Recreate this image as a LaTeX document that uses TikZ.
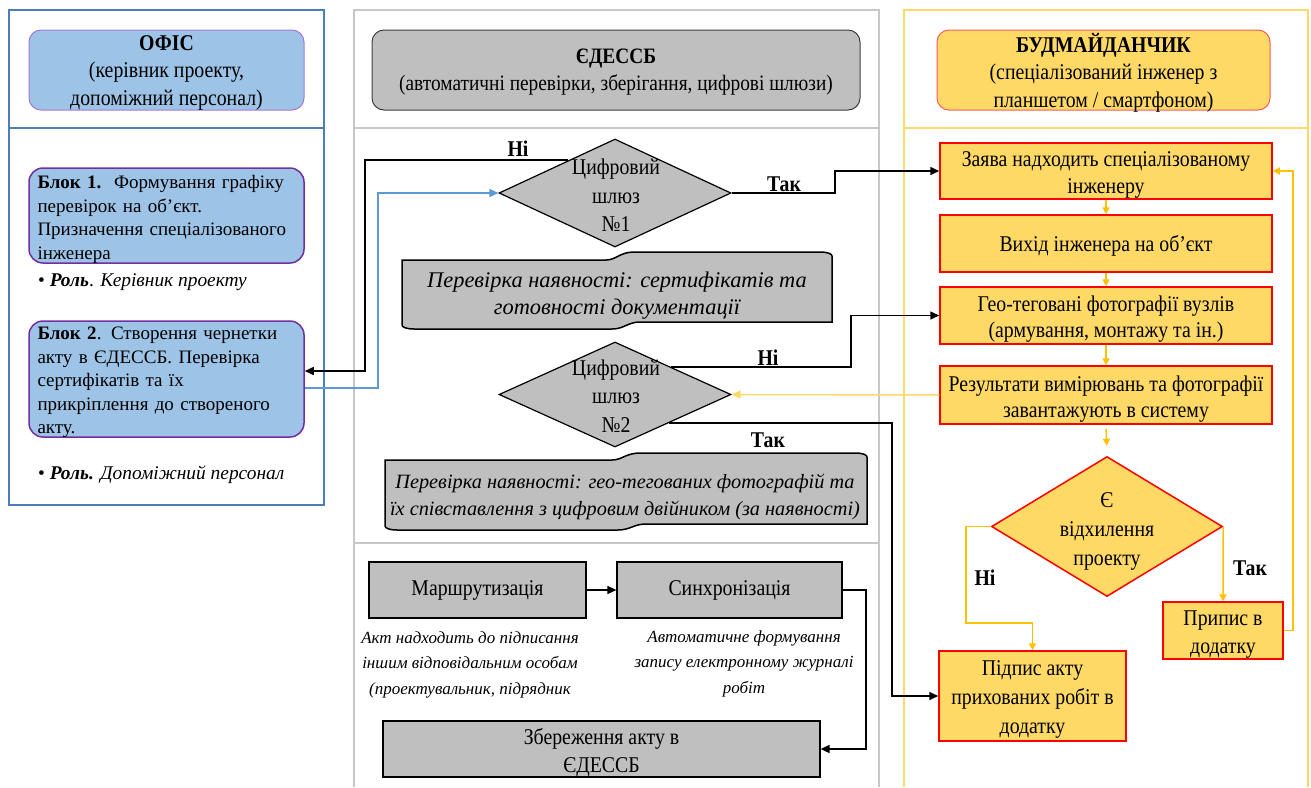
\documentclass[tikz,border=0pt]{standalone}
\usepackage{fontspec}
\setmainfont{Liberation Serif}[FakeStretch=0.88]
\newfontfamily\pf{Liberation Serif}
\usetikzlibrary{shapes.geometric,arrows.meta,calc}
\definecolor{laneblue}{HTML}{4A7EBB}
\definecolor{lightblue}{HTML}{9DC3E6}
\definecolor{purp}{HTML}{7030A0}
\definecolor{lpurp}{HTML}{A47AD6}
\definecolor{lgray}{HTML}{C8C8C8}
\definecolor{boxgray}{HTML}{BFBFBF}
\definecolor{darkgray}{HTML}{404040}
\definecolor{gold}{HTML}{FFD966}
\definecolor{amber}{HTML}{FFC000}
\definecolor{redb}{HTML}{FF0000}
\definecolor{redl}{HTML}{FF5B5B}
\definecolor{linkblue}{HTML}{5B9BD5}
\tikzset{
  hdr/.style={rounded corners=12pt, minimum height=80pt, inner sep=0pt},
  hdrtxt/.style={align=center, inner sep=0pt, font=\fontsize{22.5}{27.5}\selectfont},
  blueblk/.style={draw=purp, line width=1.5pt, fill=lightblue, rounded corners=14pt,
    minimum width=275pt},
  blocktxt/.style={text width=263pt, align=left, inner sep=0pt,
    font=\pf\fontsize{19}{23.5}\selectfont},
  role/.style={anchor=base west, inner sep=0pt, font=\pf\fontsize{19.4}{22}\selectfont},
  graybox/.style={draw=black, line width=1.2pt, fill=boxgray, align=center, inner sep=2pt,
    font=\fontsize{22.5}{28}\selectfont},
  ybox/.style={draw=redb, line width=1.5pt, fill=gold, align=center, inner sep=2pt,
    font=\fontsize{22.5}{26.5}\selectfont},
  gate/.style={diamond, draw=black, line width=1.2pt, fill=boxgray, inner sep=0pt,
    minimum width=232pt, minimum height=108pt},
  gatetxt/.style={align=center, inner sep=0pt, font=\fontsize{22.5}{28.5}\selectfont},
  wavetxt/.style={align=center, inner sep=0pt, font=\pf\fontsize{22.4}{27}\selectfont\itshape},
  note/.style={align=center, inner sep=0pt, font=\pf\fontsize{17}{25.5}\selectfont\itshape},
  lbl/.style={inner sep=0pt, font=\fontsize{22.5}{24}\selectfont\bfseries},
  wave/.style={draw=black, line width=1.5pt, fill=boxgray},
  blk/.style={draw=black, line width=1.5pt, -{Triangle[length=9pt,width=8pt]}},
  bluel/.style={draw=linkblue, line width=1.5pt, -{Triangle[length=9pt,width=8pt]}},
  amb/.style={draw=amber, line width=1.5pt, -{Triangle[length=7pt,width=7pt]}},
  pale/.style={draw=gold, line width=1.5pt, -{Triangle[length=9pt,width=8pt]}},
}
\begin{document}
\begin{tikzpicture}[x=1pt,y=-1pt]
\useasboundingbox (0,0) rectangle (1311,787);
\fill[white] (0,0) rectangle (1311,787);

% ---------- lanes ----------
\draw[laneblue, line width=1.5pt] (9,10) rectangle (324,505);
\draw[laneblue, line width=1.5pt] (9,128) -- (324,128);
\draw[lgray, line width=1.5pt] (354,787) -- (354,10) -- (879,10) -- (879,787);
\draw[lgray, line width=1.5pt] (354,128) -- (879,128);
\draw[lgray, line width=1.5pt] (354,543) -- (879,543);
\draw[gold, line width=1.5pt] (904,787) -- (904,10) -- (1308,10) -- (1308,787);
\draw[gold, line width=1.5pt] (904,128) -- (1308,128);

% ---------- headers ----------
\node[hdr, draw=lpurp, line width=1pt, fill=lightblue, minimum width=275pt] (hL) at (166.5,70) {};
\node[hdrtxt] (hLt) at (166.5,72.5) {{\bfseries ОФІС}\\(керівник проекту,\\допоміжний персонал)};
\node[hdr, draw=darkgray, line width=1pt, fill=boxgray, minimum width=488pt] (hM) at (616,70) {};
\node[hdrtxt, font=\fontsize{22}{27.5}\selectfont] (hMt) at (616,72)
  {{\bfseries ЄДЕССБ}\\(автоматичні перевірки, зберігання, цифрові шлюзи)};
\node[hdr, draw=redl, line width=1pt, fill=gold, minimum width=333pt] (hR) at (1103.5,70) {};
\node[hdrtxt] (hRt) at (1103.5,72.5) {{\bfseries БУДМАЙДАНЧИК}\\(спеціалізований інженер з\\планшетом / смартфоном)};

% ---------- office lane ----------
\node[blueblk, minimum height=95pt] (b1) at (166.5,215.5) {};
\node[blocktxt] (b1t) at (169,219.5)
  {{\bfseries Блок 1.}\ \ Формування графіку\\перевірок на об’єкт.\\Призначення спеціалізованого\\інженера};
\node[role] (r1) at (38,286) {• \textbf{\textit{Роль}}. \textit{Керівник проекту}};
\node[blueblk, minimum height=116pt] (b2) at (166.5,379) {};
\node[blocktxt] (b2t) at (169,382.5)
  {{\bfseries Блок 2}. Створення чернетки\\акту в ЄДЕССБ. Перевірка\\сертифікатів та їх\\прикріплення до створеного\\акту.};
\node[role] (r2) at (38,479) {• \textbf{\textit{Роль.}} \textit{Допоміжний персонал}};

% ---------- EDESSB lane ----------
\node[gate] (d1) at (615,193) {};
\node[gatetxt] (d1t) at (616,195.5) {Цифровий\\шлюз\\№1};
\draw[wave] (402,260) -- (606,260) .. controls (616,260) and (620,252) .. (634,252)
  -- (820,252) .. controls (828,252) and (832,254) .. (832,256) -- (832,322)
  -- (640,322) .. controls (628,322) and (624,329) .. (612,329)
  -- (414,329) .. controls (406,329) and (402,327) .. (402,325) -- cycle;
\node[wavetxt] (w1) at (617,296) {Перевірка наявності: сертифікатів та\\готовності документації};

\node[gate, minimum height=105pt] (d2) at (615,394.5) {};
\node[gatetxt] (d2t) at (616,396) {Цифровий\\шлюз\\№2};
\draw[wave] (385,460) -- (612,460) .. controls (622,460) and (626,453) .. (640,453)
  -- (855,453) .. controls (863,453) and (867,455) .. (867,457) -- (867,524)
  -- (646,524) .. controls (634,524) and (630,530) .. (618,530)
  -- (397,530) .. controls (389,530) and (385,528) .. (385,526) -- cycle;
\node[wavetxt, font=\pf\fontsize{20.3}{26.5}\selectfont\itshape] (w2) at (625,497)
  {Перевірка наявності: гео-тегованих фотографій та\\їх співставлення з цифровим двійником (за наявності)};

\node[graybox, minimum width=217pt, minimum height=56pt] (mr) at (477.5,590) {Маршрутизація};
\node[graybox, minimum width=225pt, minimum height=56pt] (sy) at (729.5,590) {Синхронізація};
\node[note] (nA) at (470,664.5) {Акт надходить до підписання\\іншим відповідальним особам\\(проектувальник, підрядник};
\node[note] (nB) at (744,663.5) {Автоматичне формування\\запису електронному журналі\\робіт};
\node[graybox, minimum width=437pt, minimum height=56pt] (zb) at (601.5,749) {};
\node[graybox, draw=none, fill=none] (zbt) at (601.5,753) {Збереження акту в\\ЄДЕССБ};

% ---------- site lane ----------
\node[ybox, minimum width=332pt, minimum height=56pt] (zy) at (1106,171) {};
\node[ybox, draw=none, fill=none] (zyt) at (1106,175) {Заява надходить спеціалізованому\\інженеру};
\node[ybox, minimum width=332pt, minimum height=57pt] (vy) at (1106,243.5) {};
\node[ybox, draw=none, fill=none] (vyt) at (1106,246) {Вихід інженера на об’єкт};
\node[ybox, minimum width=332pt, minimum height=57pt] (ge) at (1106,315.5) {};
\node[ybox, draw=none, fill=none] (get) at (1106,319) {Гео-теговані фотографії вузлів\\(армування, монтажу та ін.)};
\node[ybox, minimum width=332pt, minimum height=58pt] (rz) at (1106,395) {};
\node[ybox, draw=none, fill=none] (rzt) at (1106,399) {Результати вимірювань та фотографії\\завантажують в систему};
\node[diamond, draw=redb, line width=1.5pt, fill=gold, inner sep=0pt,
  minimum width=231pt, minimum height=140pt] (dv) at (1107,526.5) {};
\node[gatetxt, font=\fontsize{22.5}{29}\selectfont] (dvt) at (1107,531) {Є\\відхилення\\проекту};
\node[ybox, minimum width=120pt, minimum height=57pt] (pr) at (1223,630.5) {};
\node[ybox, draw=none, fill=none, font=\fontsize{22.5}{27.5}\selectfont] (prt) at (1223,634.5) {Припис в\\додатку};
\node[ybox, minimum width=187pt, minimum height=90pt] (pd) at (1032.5,696) {};
\node[ybox, draw=none, fill=none, font=\fontsize{22.5}{29}\selectfont] (pdt) at (1032.5,699) {Підпис акту\\прихованих робіт в\\додатку};

% ---------- connectors ----------
\coordinate (d1n) at ($(d1.north)!0.4!(d1.west)$);
\draw[blk] (d1n) -| (365,371) -- (b2.east |- 0,371);
\draw[bluel] (b2.east |- 0,388) -| (378,193) -- (d1.west);
\draw[blk] (d1.east) -- (835,193) |- (zy.west);
\node[lbl] (l1) at (518,148.5) {Ні};
\node[lbl] (l2) at (784,184) {Так};

\coordinate (d2n) at ($(d2.north)!0.48!(d2.east)$);
\coordinate (d2y) at ($(d2.east)!0.54!(d2.south)$);
\draw[blk] (d2n) -| (851,315.5) -- (ge.west);
\draw[blk] (d2y) -| (892,696) -- (pd.west);
\draw[pale] (rz.west) -- (d2.east);
\node[lbl] (l3) at (768,358) {Ні};
\node[lbl] (l4) at (768,440) {Так};

\draw[blk] (mr.east) -- (sy.west);
\draw[blk] (sy.east) -| (866,749) -- (zb.east);

\draw[amb] (zy.south) -- (vy.north);
\draw[amb] (vy.south) -- (ge.north);
\draw[amb] (ge.south) -- (rz.north);
\draw[amb, shorten <=4pt, shorten >=10pt] (rz.south) -- (dv.north);
\draw[amb] (dv.west) -| (966,623) -| (pd.north);
\draw[amb] (dv.east) -- (pr.north);
\draw[amb] (pr.east) -| (1293,171) -- (zy.east);
\node[lbl] (l5) at (985,578) {Ні};
\node[lbl] (l6) at (1250,568) {Так};
\end{tikzpicture}
\end{document}
